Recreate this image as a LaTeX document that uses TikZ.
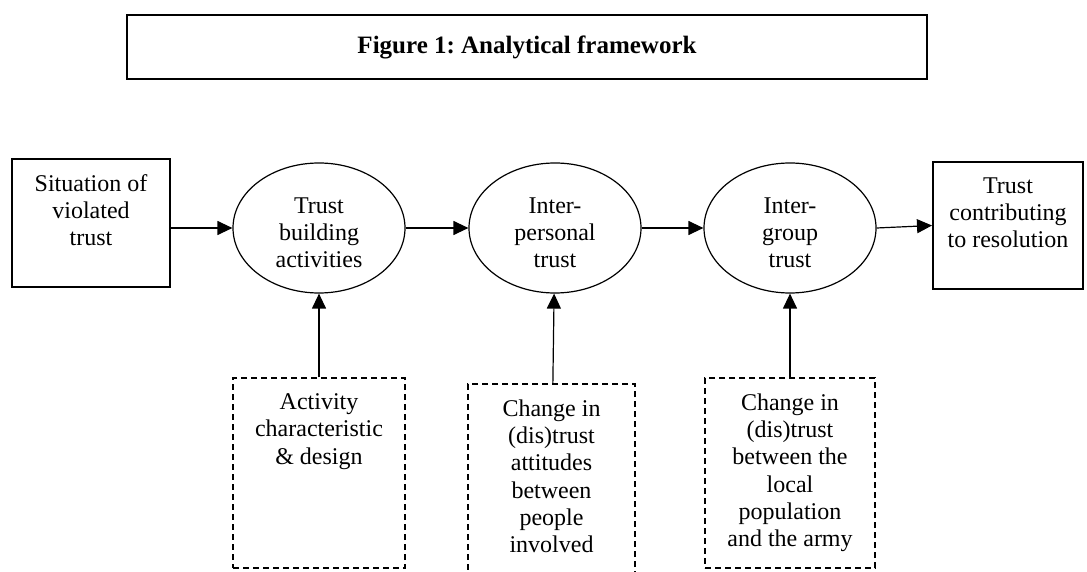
\documentclass[tikz,border=0pt]{standalone}
\usepackage{fontspec}
\setmainfont{Liberation Serif}
\usetikzlibrary{shapes.geometric,arrows.meta}
\frenchspacing
\begin{document}
\begin{tikzpicture}[x=0.5pt,y=-0.5pt,
  every node/.style={font=\fontsize{12pt}{13.6pt}\selectfont},
  box/.style={draw,line width=1pt,inner sep=0pt},
  oval/.style={draw,semithick,ellipse,minimum width=86pt,minimum height=65pt,inner sep=0pt},
  dbox/.style={draw,semithick,dash pattern=on 3pt off 2pt,inner sep=0pt},
  txt/.style={align=center,inner sep=0pt,anchor=north},
  arr/.style={semithick,-{Triangle[length=7.5pt,width=7pt]}}]
\clip (0,0) rectangle (1087,572);
\node[box,minimum width=400pt,minimum height=32pt,font=\fontsize{12.5pt}{14pt}\selectfont\bfseries] (title) at (527,47) {Figure 1: Analytical framework};
\node[box,minimum width=79pt,minimum height=64pt] (sit) at (91,223) {};
\node[txt] (sittxt) at ([yshift=-8pt]sit.north) {Situation of\\violated\\trust};
\node[oval] (build) at (319,228) {};
\node[txt,anchor=center] (buildtxt) at ([yshift=-2.5pt]build.center) {Trust\\building\\activities};
\node[oval] (inter) at (555,228) {};
\node[txt,anchor=center] (intertxt) at ([yshift=-2.5pt]inter.center) {Inter-\\personal\\trust};
\node[oval] (group) at (790,228) {};
\node[txt,anchor=center] (grouptxt) at ([yshift=-2.5pt]group.center) {Inter-\\group\\trust};
\node[box,minimum width=75pt,minimum height=63.5pt] (res) at (1008,225.5) {};
\node[txt] (restxt) at ([yshift=-8pt]res.north) {Trust\\contributing\\to resolution};
\node[dbox,minimum width=86pt,minimum height=95pt] (design) at (319,473) {};
\node[txt] (designtxt) at ([yshift=-8pt]design.north) {Activity\\characteristic\\\& design};
\node[dbox,minimum width=83.5pt,minimum height=98pt] (people) at (551.5,482) {};
\node[txt] (peopletxt) at ([yshift=-8pt]people.north) {Change in\\(dis)trust\\attitudes\\between\\people\\involved};
\node[dbox,minimum width=85pt,minimum height=95pt] (army) at (790,473) {};
\node[txt] (armytxt) at ([yshift=-8pt]army.north) {Change in\\(dis)trust\\between the\\local\\population\\and the army};
\draw[arr] (sit.east |- build.west) -- (build.west);
\draw[arr] (build) -- (inter);
\draw[arr] (inter) -- (group);
\draw[arr] (group.east) -- (res.west);
\draw[arr] (design) -- (build);
\draw[arr] (people) -- (inter);
\draw[arr] (army) -- (group);
\end{tikzpicture}
\end{document}
